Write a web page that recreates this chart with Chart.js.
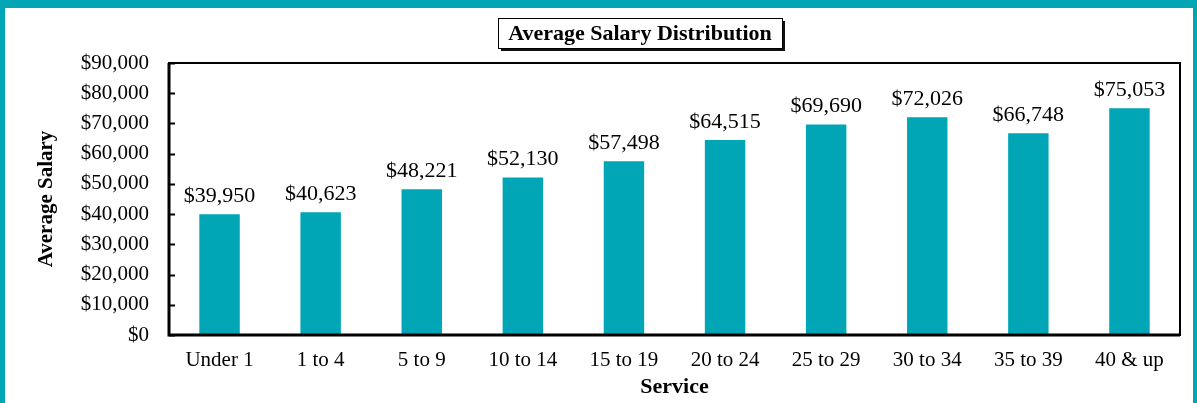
<!DOCTYPE html>
<html lang="en">
  <head>
    <meta charset="UTF-8" />
    <title>Average Salary Distribution</title>
    <script src="https://cdn.jsdelivr.net/npm/chart.js"></script>
    <style>
      html, body { margin: 0; padding: 0; background: #fff; }
      #wrap { position: relative; width: 1197px; height: 403px; }
    </style>
  </head>
  <body>
    <div id="wrap"><canvas id="myChart" width="1197" height="403"></canvas></div>
    <script>
      var categorias = ["Under 1", "1 to 4", "5 to 9", "10 to 14", "15 to 19", "20 to 24", "25 to 29", "30 to 34", "35 to 39", "40 & up"];
      var salarios = [39950, 40623, 48221, 52130, 57498, 64515, 69690, 72026, 66748, 75053];
      var titulo = "Average Salary Distribution";
      var tituloY = "Average Salary";
      var tituloX = "Service";

      var teal = "#00A6B6";
      var fonte = "'Liberation Serif', 'Times New Roman', serif";

      function dinheiro(v) {
        return "$" + Number(v).toLocaleString("en-US");
      }

      // moldura, caixa do titulo, borda do grafico e rotulos
      var extras = {
        id: "extras",
        beforeDraw: function (chart) {
          var c = chart.ctx;
          c.save();
          c.fillStyle = "#fff";
          c.fillRect(0, 0, chart.width, chart.height);
          c.fillStyle = teal;
          c.fillRect(0, 0, chart.width, 8);
          c.fillRect(0, 0, 5, chart.height);
          c.fillRect(chart.width - 4, 0, 4, chart.height);
          c.restore();
        },
        afterDraw: function (chart) {
          var c = chart.ctx;
          var a = chart.chartArea;
          var y = chart.scales.y;
          c.save();
          // borda do plot
          c.strokeStyle = "#000";
          c.lineWidth = 2;
          c.strokeRect(a.left, a.top, a.right - a.left, a.bottom - a.top);
          c.lineWidth = 3;
          c.beginPath();
          c.moveTo(a.left, a.top);
          c.lineTo(a.left, a.bottom);
          c.lineTo(a.right, a.bottom);
          c.stroke();
          // marcas do eixo y
          c.lineWidth = 2;
          y.ticks.forEach(function (t) {
            var py = Math.round(y.getPixelForValue(t.value)) + 0.5;
            c.beginPath();
            c.moveTo(a.left, py);
            c.lineTo(a.left + 6, py);
            c.stroke();
          });
          // rotulos nas barras
          c.fillStyle = "#000";
          c.font = "22px " + fonte;
          c.textAlign = "center";
          c.textBaseline = "alphabetic";
          chart.getDatasetMeta(0).data.forEach(function (bar, i) {
            c.fillText(dinheiro(salarios[i]), bar.x, bar.y - 12);
          });
          // titulo com sombra
          c.font = "bold 22px " + fonte;
          var w = c.measureText(titulo).width;
          var cx = 640;
          var bx = Math.round(cx - w / 2 - 10), by = 18, bw = Math.round(w + 20), bh = 30;
          c.fillStyle = "#111";
          c.fillRect(bx + 3, by + 3, bw, bh);
          c.fillStyle = "#fff";
          c.fillRect(bx, by, bw, bh);
          c.strokeStyle = "#000";
          c.lineWidth = 1;
          c.strokeRect(bx + 0.5, by + 0.5, bw, bh);
          c.fillStyle = "#000";
          c.textBaseline = "middle";
          c.fillText(titulo, cx, by + bh / 2 + 1);
          c.restore();
        },
      };

      Chart.defaults.font.family = fonte;
      Chart.defaults.color = "#000";

      new Chart(document.getElementById("myChart"), {
        type: "bar",
        data: {
          labels: categorias,
          datasets: [
            {
              label: tituloY,
              data: salarios,
              backgroundColor: teal,
              borderWidth: 0,
              barPercentage: 0.4,
              categoryPercentage: 1,
            },
          ],
        },
        options: {
          responsive: false,
          animation: false,
          layout: { padding: { left: 34, right: 17, top: 63, bottom: 2 } },
          plugins: {
            legend: { display: false },
            tooltip: { enabled: false },
          },
          scales: {
            x: {
              grid: { display: false, drawTicks: false },
              border: { display: false },
              ticks: { font: { size: 21 }, padding: 13, maxRotation: 0 },
              title: { display: true, text: tituloX, font: { size: 22, weight: "bold" }, padding: { top: 0, bottom: 0 } },
              afterFit: function (s) { s.height = 66; },
            },
            y: {
              min: 0,
              max: 90000,
              grid: { display: false, drawTicks: false },
              border: { display: false },
              ticks: { stepSize: 10000, font: { size: 21 }, padding: 20, callback: function (v) { return dinheiro(v); } },
              title: { display: true, text: tituloY, font: { size: 21, weight: "bold" }, padding: { top: 0, bottom: 8 } },
              afterFit: function (s) { s.width = 135; },
            },
          },
        },
        plugins: [extras],
      });
    </script>
  </body>
</html>
